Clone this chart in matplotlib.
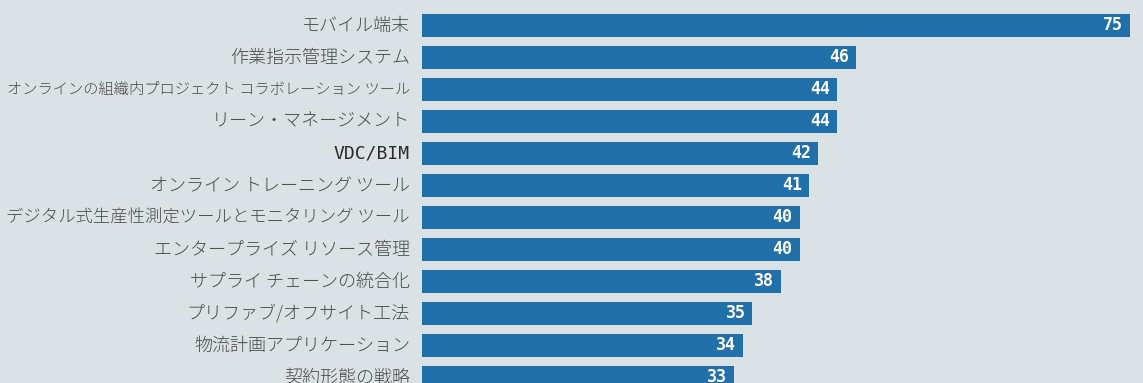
import matplotlib
matplotlib.use("Agg")
import matplotlib.pyplot as plt

# adoption share by technology (%)
categories = [
    "モバイル端末",
    "作業指示管理システム",
    "オンラインの組織内プロジェクト コラボレーション ツール",
    "リーン・マネージメント",
    "VDC/BIM",
    "オンライン トレーニング ツール",
    "デジタル式生産性測定ツールとモニタリング ツール",
    "エンタープライズ リソース管理",
    "サプライ チェーンの統合化",
    "プリファブ/オフサイト工法",
    "物流計画アプリケーション",
    "契約形態の戦略",
]
values = [75, 46, 44, 44, 42, 41, 40, 40, 38, 35, 34, 33]

bg = "#dbe2e6"
bar_color = "#2270a9"

fig = plt.figure(figsize=(11.43, 3.83), dpi=100, facecolor=bg)
W, H = 1143, 383
left, right = 422, 1130
top_px, bottom_px = 9.5, 393.5
ax = fig.add_axes([left / W, 1 - bottom_px / H, (right - left) / W, (bottom_px - top_px) / H])
ax.set_facecolor(bg)

y = list(range(len(categories)))
ax.barh(y, values, height=0.72, color=bar_color)
ax.set_xlim(0, 75)
ax.set_ylim(len(categories) - 0.5, -0.5)

renderer = fig.canvas.get_renderer()
max_w = 402  # px available left of the bars

for yi, (cat, v) in enumerate(zip(categories, values)):
    if cat.isascii():
        fam, col, wt = "DejaVu Sans Mono", "#2a2a2a", "normal"
    else:
        fam, col, wt = ["Noto Sans CJK JP", "DejaVu Sans"], "#4a4a4a", "light"
    t = ax.text(-0.017, yi, cat, transform=ax.get_yaxis_transform(), ha="right", va="center",
                fontsize=13, color=col, family=fam, fontweight=wt)
    w = t.get_window_extent(renderer).width
    if w > max_w:
        t.set_fontsize(13 * max_w / w)
    ax.annotate(str(v), (v, yi), xytext=(-5, 0), textcoords="offset points",
                ha="right", va="center", color="white", fontsize=12, fontweight="bold",
                family="DejaVu Sans Mono")

ax.set_xticks([])
ax.set_yticks([])
for s in ax.spines.values():
    s.set_visible(False)

fig.savefig("out.png", dpi=100, facecolor=bg)
